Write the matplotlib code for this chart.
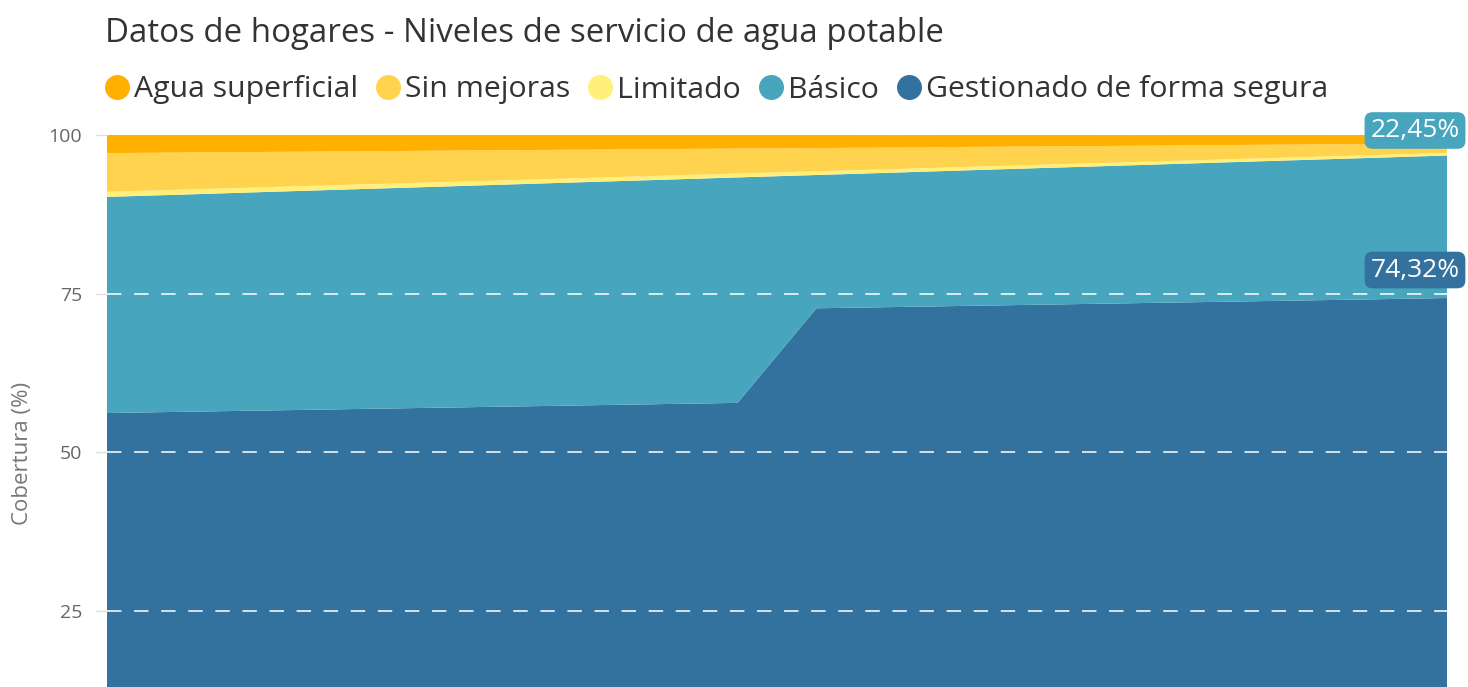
import numpy as np
import matplotlib.pyplot as plt
from matplotlib.lines import Line2D

plt.rcParams['font.family'] = ['Open Sans', 'DejaVu Sans']

# Data
years = list(range(2000, 2018))
gestionado = [56.2, 56.4, 56.6, 56.8, 57.0, 57.2, 57.4, 57.6, 57.8,
              72.7, 72.9, 73.1, 73.3, 73.5, 73.7, 73.9, 74.1, 74.32]
basico = [34.05, 34.23, 34.42, 34.60, 34.78, 34.97, 35.15, 35.33, 35.52,
          21.00, 21.18, 21.37, 21.55, 21.73, 21.92, 22.10, 22.28, 22.45]
limitado = [0.80, 0.78, 0.75, 0.73, 0.71, 0.68, 0.66, 0.64, 0.61,
            0.59, 0.56, 0.54, 0.52, 0.49, 0.47, 0.45, 0.42, 0.40]
sin_mejoras = [6.10, 5.83, 5.56, 5.29, 5.02, 4.75, 4.48, 4.21, 3.94,
               3.66, 3.39, 3.12, 2.85, 2.58, 2.31, 2.04, 1.77, 1.50]
agua_superficial = [2.85, 2.76, 2.67, 2.58, 2.49, 2.40, 2.31, 2.23, 2.14,
                    2.05, 1.96, 1.87, 1.78, 1.69, 1.60, 1.51, 1.42, 1.33]

labels = ["Gestionado de forma segura", "Básico", "Limitado", "Sin mejoras", "Agua superficial"]
colors = ["#33719e", "#47a5be", "#fff07a", "#ffd34e", "#ffb000"]
yticks = [25, 50, 75, 100]

W, H = 1468, 687
fig = plt.figure(figsize=(W / 100, H / 100), dpi=100)
ax = fig.add_axes([107 / W, 0, (1447 - 107) / W, 1 - 135 / H])

ax.stackplot(years, gestionado, basico, limitado, sin_mejoras, agua_superficial,
             colors=colors, linewidth=0)

ax.set_xlim(years[0], years[-1])
ax.set_ylim(13.04, 100)

# white dashed grid drawn on top of the areas
for t in [25, 50, 75]:
    ax.axhline(t, color="white", lw=1.3, dashes=(8, 7), alpha=0.85, zorder=3)

ax.set_yticks(yticks)
ax.set_yticklabels([str(t) for t in yticks])
ax.tick_params(axis="y", length=8, width=1, color="#dddddd", labelsize=14,
               labelcolor="#666666", pad=10)
ax.set_xticks([])
for s in ax.spines.values():
    s.set_visible(False)

ax.set_ylabel("Cobertura (%)", fontsize=16, color="#777777")
ax.yaxis.set_label_coords(-0.055, 0.424)

# end-value labels
cum_basico = gestionado[-1] + basico[-1]
ax.annotate(f"{basico[-1]:.2f}%".replace(".", ","), xy=(years[-1], cum_basico),
            xytext=(-32, 25), textcoords="offset pixels", ha="center", va="center",
            fontsize=19, color="white", annotation_clip=False,
            bbox=dict(boxstyle="round,pad=0.22,rounding_size=0.3", fc=colors[1], ec="none"))
ax.annotate(f"{gestionado[-1]:.2f}%".replace(".", ","), xy=(years[-1], gestionado[-1]),
            xytext=(-32, 28), textcoords="offset pixels", ha="center", va="center",
            fontsize=19, color="white", annotation_clip=False,
            bbox=dict(boxstyle="round,pad=0.22,rounding_size=0.3", fc=colors[0], ec="none"))

fig.text(105 / W, 1 - 33 / H, "Datos de hogares - Niveles de servicio de agua potable",
         fontsize=23.8, color="#333333", va="center", ha="left", fontweight="medium")

handles = [Line2D([], [], marker="o", ls="none", ms=18, color=c, mec="none")
           for c in colors[::-1]]
fig.legend(handles, labels[::-1], loc="center left", bbox_to_anchor=(90 / W, 1 - 90 / H),
           ncol=5, frameon=False, fontsize=21.8, handletextpad=0.05, columnspacing=0.5,
           handlelength=1.0, borderaxespad=0, labelcolor="#333333")

fig.savefig("out.png", dpi=100)
